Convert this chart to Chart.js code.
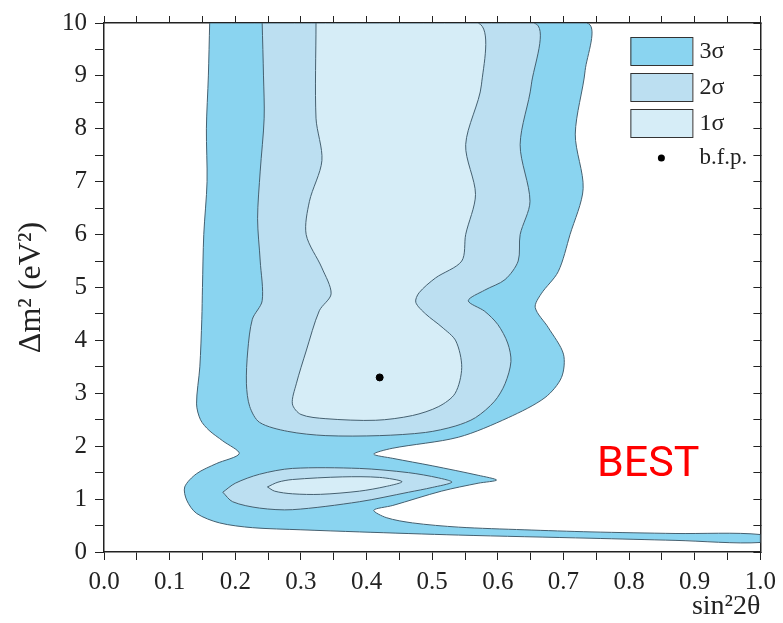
<!DOCTYPE html>
<html>
<head>
<meta charset="utf-8">
<script src="https://cdn.jsdelivr.net/npm/chart.js@4.4.0/dist/chart.umd.min.js"></script>
<style>
  html, body { margin: 0; padding: 0; background: #fff; }
  #wrap { width: 783px; height: 623px; position: relative; }
</style>
</head>
<body>
<div id="wrap"><canvas id="chart"></canvas></div>
<script>
// contour outlines: x = sin²2θ, y = Δm² (eV²)
const sigma3X = [0.161, 0.159, 0.156, 0.157, 0.152, 0.150, 0.149, 0.146, 0.141, 0.147,
  0.160, 0.181, 0.206, 0.171, 0.141, 0.123, 0.126, 0.141, 0.176, 0.226,
  0.30, 0.389, 0.54, 0.742, 0.87, 1.0,
  1.0, 0.87, 0.742, 0.64, 0.54, 0.47, 0.43, 0.411, 0.44, 0.514,
  0.57, 0.598, 0.57, 0.50, 0.44, 0.411, 0.439, 0.54, 0.616, 0.672,
  0.697, 0.70, 0.677, 0.657, 0.666, 0.692, 0.71, 0.730, 0.718, 0.733, 0.735];
const sigma3Y = [10, 9.0, 8.0, 7.0, 6.0, 5.0, 4.4, 3.5, 2.8, 2.5,
  2.3, 2.1, 1.86, 1.67, 1.48, 1.23, 0.98, 0.73, 0.55, 0.46,
  0.42, 0.38, 0.32, 0.26, 0.22, 0.18,
  0.33, 0.35, 0.38, 0.42, 0.47, 0.55, 0.65, 0.79, 0.88, 1.15,
  1.3, 1.36, 1.45, 1.63, 1.77, 1.85, 1.96, 2.17, 2.54, 2.92,
  3.3, 3.74, 4.24, 4.62, 4.88, 5.3, 6.0, 6.87, 7.9, 9.1, 10];

const sigma2X = [0.241, 0.243, 0.244, 0.238, 0.234, 0.238, 0.241, 0.226, 0.219, 0.217,
  0.222, 0.237, 0.28, 0.338, 0.42, 0.49, 0.535, 0.566, 0.595, 0.611,
  0.62, 0.615, 0.60, 0.58, 0.555, 0.58, 0.611, 0.631, 0.634, 0.649, 0.634, 0.651, 0.655];
const sigma2Y = [10, 9, 8.2, 7.2, 6.3, 5.5, 4.75, 4.4, 3.8, 3.18,
  2.75, 2.45, 2.28, 2.2, 2.2, 2.26, 2.38, 2.54, 2.85, 3.18,
  3.6, 3.95, 4.3, 4.55, 4.75, 4.95, 5.15, 5.5, 6.0, 6.63, 7.7, 8.83, 10];

const sigma1X = [0.323, 0.323, 0.332, 0.313, 0.308, 0.332, 0.346, 0.328, 0.308, 0.293,
  0.287, 0.30, 0.338, 0.414, 0.47, 0.51, 0.535, 0.545, 0.536, 0.515,
  0.49, 0.475, 0.48, 0.505, 0.545, 0.551, 0.566, 0.551, 0.575, 0.57];
const sigma1Y = [10, 8.2, 7.4, 6.63, 6.0, 5.37, 4.88, 4.56, 3.8, 3.18,
  2.8, 2.6, 2.52, 2.49, 2.58, 2.75, 3.0, 3.49, 3.99, 4.25,
  4.5, 4.72, 4.9, 5.18, 5.5, 6.0, 6.76, 7.7, 8.83, 10];

const island2X = [0.181, 0.2, 0.237, 0.287, 0.389, 0.464, 0.51, 0.53, 0.5, 0.464, 0.389, 0.287, 0.237, 0.196];
const island2Y = [1.13, 1.3, 1.47, 1.58, 1.58, 1.5, 1.4, 1.32, 1.22, 1.13, 0.95, 0.8, 0.83, 0.95];

const island1X = [0.249, 0.265, 0.287, 0.363, 0.42, 0.454, 0.43, 0.389, 0.33, 0.287, 0.26];
const island1Y = [1.23, 1.32, 1.37, 1.42, 1.41, 1.33, 1.24, 1.15, 1.09, 1.1, 1.15];

const bestFitX = [0.42];
const bestFitY = [3.3];

const legendLabels = ['3σ', '2σ', '1σ', 'b.f.p.'];

const C3 = '#8ad4f0';
const C2 = '#bcdff1';
const C1 = '#d6edf7';
const LINE = '#456070';
const SERIF = "'Liberation Serif', 'DejaVu Serif', serif";

// closed outline: repeat the first point so the border closes too
const toPoints = (xs, ys) => {
    const pts = xs.map((x, i) => ({ x, y: ys[i] }));
    pts.push({ x: xs[0], y: ys[0] });
    return pts;
};
const contour = (label, xs, ys, color) => ({
    label,
    data: toPoints(xs, ys),
    fill: 'shape',
    backgroundColor: color,
    borderColor: LINE,
    borderWidth: 1,
    pointRadius: 0,
    tension: 0.3
});

// first dataset is drawn on top
const datasets = [
    { label: legendLabels[3], data: bestFitX.map((x, i) => ({ x, y: bestFitY[i] })),
      showLine: false, pointRadius: 3.5, pointBackgroundColor: '#000', pointBorderColor: '#000', backgroundColor: '#000' },
    contour(legendLabels[2], island1X, island1Y, C1),
    contour(legendLabels[2], sigma1X, sigma1Y, C1),
    contour(legendLabels[1], island2X, island2Y, C2),
    contour(legendLabels[1], sigma2X, sigma2Y, C2),
    contour(legendLabels[0], sigma3X, sigma3Y, C3)
];

const fixSize = (w, h) => (scale) => {
    if (w !== null) scale.width = w;
    if (h !== null) scale.height = h;
};

const xTicks = (v) => (Math.round(v * 100) % 10 === 0 ? v.toFixed(1) : '');
const yTicks = (v) => (Math.round(v * 10) % 10 === 0 ? String(Math.round(v)) : '');

// legend boxes and the BEST tag
const overlay = {
    id: 'overlay',
    afterDatasetsDraw(chart) {
        const ctx = chart.ctx;
        const area = chart.chartArea;
        const x0 = area.right - 130;
        const y0 = area.top + 14;
        const fills = [C3, C2, C1];
        ctx.save();
        ctx.font = '24px ' + SERIF;
        ctx.textBaseline = 'middle';
        fills.forEach((c, i) => {
            const top = y0 + i * 36;
            ctx.fillStyle = c;
            ctx.fillRect(x0, top, 62, 28);
            ctx.strokeStyle = '#333';
            ctx.lineWidth = 1;
            ctx.strokeRect(x0 + 0.5, top + 0.5, 62, 28);
            ctx.fillStyle = '#222';
            ctx.fillText(legendLabels[i], x0 + 69, top + 15);
        });
        ctx.beginPath();
        ctx.arc(x0 + 31, y0 + 121, 3.5, 0, Math.PI * 2);
        ctx.fillStyle = '#000';
        ctx.fill();
        ctx.fillStyle = '#222';
        ctx.font = '23px ' + SERIF;
        ctx.fillText(legendLabels[3], x0 + 69, y0 + 121);

        ctx.font = '43px Roboto, "Liberation Sans", sans-serif';
        ctx.fillStyle = '#ff0000';
        ctx.textBaseline = 'alphabetic';
        ctx.fillText('BEST', 597, 476);
        ctx.restore();
    }
};

new Chart(document.getElementById('chart'), {
    type: 'line',
    data: { datasets },
    plugins: [overlay],
    options: {
        responsive: true,
        maintainAspectRatio: false,
        animation: false,
        layout: { padding: 0 },
        plugins: { legend: { display: false }, tooltip: { enabled: false } },
        scales: {
            x: {
                type: 'linear', position: 'bottom', min: 0, max: 1,
                afterFit: fixSize(null, 71),
                ticks: { stepSize: 0.05, autoSkip: false, maxRotation: 0, padding: 7,
                    callback: xTicks, color: '#222', font: { family: SERIF, size: 25 } },
                grid: { drawOnChartArea: false, tickLength: 8, color: '#222' },
                border: { color: '#222', width: 1.5 },
                title: { display: true, text: 'sin²2θ', align: 'end', color: '#222',
                    font: { family: SERIF, size: 28 }, padding: { top: 0, bottom: 0 } }
            },
            xTop: {
                type: 'linear', position: 'top', min: 0, max: 1, display: true,
                afterFit: fixSize(null, 21),
                ticks: { stepSize: 0.05, autoSkip: false, display: false },
                grid: { drawOnChartArea: false, tickLength: 7, color: '#222' },
                border: { color: '#222', width: 1.5 }
            },
            y: {
                type: 'linear', position: 'left', min: 0, max: 10,
                afterFit: fixSize(104, null),
                ticks: { stepSize: 0.5, autoSkip: false, padding: 8,
                    callback: yTicks, color: '#222', font: { family: SERIF, size: 25 } },
                grid: { drawOnChartArea: false, tickLength: 9, color: '#222' },
                border: { color: '#222', width: 1.5 },
                title: { display: true, text: 'Δm² (eV²)', color: '#222',
                    font: { family: SERIF, size: 32 }, padding: { top: 12, bottom: 0 } }
            },
            yRight: {
                type: 'linear', position: 'right', min: 0, max: 10, display: true,
                afterFit: fixSize(20, null),
                ticks: { stepSize: 0.5, autoSkip: false, display: false },
                grid: { drawOnChartArea: false, tickLength: -7, color: '#222' },
                border: { color: '#222', width: 1.5 }
            }
        }
    }
});
</script>
</body>
</html>
